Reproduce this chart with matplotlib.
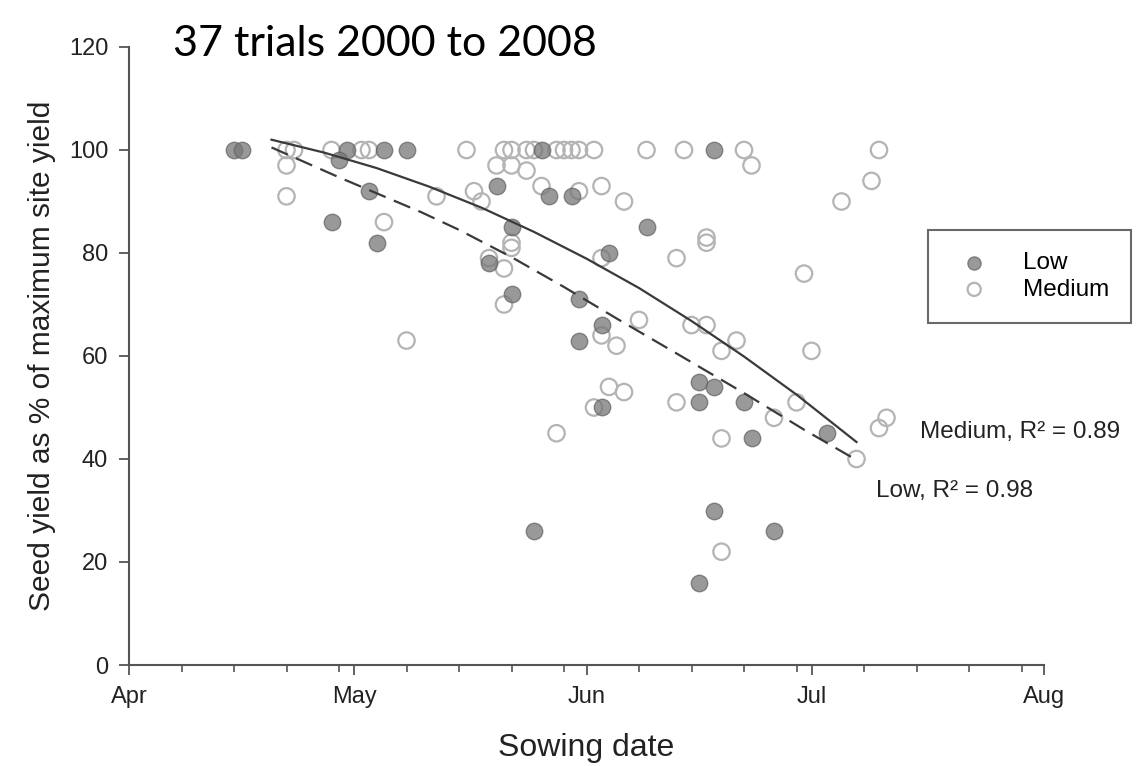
import numpy as np
import pandas as pd
import matplotlib
matplotlib.use("Agg")
import matplotlib.pyplot as plt
import matplotlib.dates as mdates

plt.rcParams['font.family'] = ['Liberation Sans', 'DejaVu Sans']

# sowing dates (month-day) and yield as % of site maximum
low_dates = ["04-15", "04-16", "04-30", "04-29", "05-05", "05-08", "05-03", "04-28",
             "05-04", "05-20", "05-26", "05-27", "05-30", "05-22", "05-19", "05-22",
             "06-04", "06-09", "05-31", "06-03", "05-31", "06-03", "05-25", "06-18",
             "06-16", "06-18", "06-16", "06-22", "06-23", "07-03", "06-18", "06-26",
             "06-16"]
low_yield = [100, 100, 100, 98, 100, 100, 92, 86,
             82, 93, 100, 91, 91, 85, 78, 72,
             80, 85, 71, 66, 63, 50, 26, 100,
             55, 54, 51, 51, 44, 45, 30, 26,
             16]

med_dates = ["04-22", "04-23", "04-28", "05-02", "05-03", "05-16", "05-21", "05-22",
             "05-24", "05-25", "05-28", "05-29", "05-30", "05-31", "06-02", "06-09",
             "06-14", "06-22", "07-10",
             "04-22", "04-22", "05-05", "05-08", "05-12", "05-20", "05-22", "05-24",
             "05-17", "05-18", "05-26", "05-31", "06-03", "06-06", "06-23", "07-09",
             "07-05", "05-22", "05-22", "05-19", "05-21", "05-21", "06-03", "06-17",
             "06-17", "06-13", "06-30", "06-08", "06-03", "06-05", "06-04", "06-06",
             "06-02", "05-28", "06-15", "06-17", "06-21", "06-19", "07-01", "06-13",
             "06-26", "06-29", "07-07", "06-19", "07-11", "07-10", "06-19"]
med_yield = [100, 100, 100, 100, 100, 100, 100, 100,
             100, 100, 100, 100, 100, 100, 100, 100,
             100, 100, 100,
             97, 91, 86, 63, 91, 97, 97, 96,
             92, 90, 93, 92, 93, 90, 97, 94,
             90, 82, 81, 79, 77, 70, 79, 83,
             82, 79, 76, 67, 64, 62, 54, 53,
             50, 45, 66, 66, 63, 61, 61, 51,
             48, 51, 40, 44, 48, 46, 22]

# fitted response curves
low_fit_dates = ["04-20", "04-29", "05-10", "05-15", "05-22", "05-29", "06-05",
                 "06-13", "06-22", "06-30", "07-07"]
low_fit = [100.5, 94.7, 87.9, 84.5, 79.2, 73.4, 67.3, 60.5, 52.8, 45.7, 39.8]
med_fit_dates = ["04-20", "04-27", "05-04", "05-11", "05-18", "05-25", "06-01",
                 "06-08", "06-15", "06-22", "06-29", "07-07"]
med_fit = [102.0, 99.5, 96.5, 92.9, 88.8, 84.1, 78.9, 73.2, 66.8, 59.9, 52.5, 43.3]

year = "2001-"
def to_dt(days):
    return pd.to_datetime([year + d for d in days])

fig = plt.figure(figsize=(11.37, 7.66), dpi=100)
ax = fig.add_axes([129/1137, 1-665/766, 915/1137, 618/766])

ax.scatter(to_dt(med_dates), med_yield, s=140, facecolors='none',
           edgecolors='#b4b4b4', linewidths=1.6, label='Medium', zorder=2)
ax.scatter(to_dt(low_dates), low_yield, s=140, facecolors='#777777',
           edgecolors='#666666', linewidths=1.0, alpha=0.75, label='Low', zorder=2)

ax.plot(to_dt(med_fit_dates), med_fit, color='#3a3a3a', lw=1.6, zorder=3)
ax.plot(to_dt(low_fit_dates), low_fit, color='#3a3a3a', lw=1.6,
        dashes=(8, 4), zorder=3)

ax.set_xlim(pd.Timestamp(year + "04-01"), pd.Timestamp(year + "08-01"))
ax.set_ylim(0, 120)
ax.set_yticks(range(0, 121, 20))
ax.xaxis.set_major_locator(mdates.MonthLocator())
ax.xaxis.set_major_formatter(mdates.DateFormatter('%b'))
ax.xaxis.set_minor_locator(mdates.DayLocator(bymonthday=[8, 15, 22, 29]))

for side in ['top', 'right']:
    ax.spines[side].set_visible(False)
for side in ['left', 'bottom']:
    ax.spines[side].set_color('#555555')
    ax.spines[side].set_linewidth(1.5)
ax.tick_params(which='major', length=7, width=1.3, color='#555555',
               labelsize=17, labelcolor='#222222', pad=8)
ax.tick_params(which='minor', length=5, width=1.2, color='#555555')

ax.set_xlabel('Sowing date', fontsize=23, color='#222222', labelpad=18)
ax.set_ylabel('Seed yield as % of maximum site yield', fontsize=21.5,
              color='#222222', labelpad=9)

handles, labels = ax.get_legend_handles_labels()
leg = ax.legend(handles[::-1], labels[::-1], loc='upper left',
                bbox_to_anchor=(928/1137, 1-230/766), bbox_transform=fig.transFigure,
                fontsize=17.5, frameon=True, fancybox=False, markerscale=0.8,
                handletextpad=1.0, borderpad=0.9, labelspacing=0.2, borderaxespad=0)
leg.get_frame().set_edgecolor('#444444')
leg.get_frame().set_linewidth(1.5)

ax.text(0.8645, 0.377, 'Medium, R² = 0.89', transform=ax.transAxes,
        fontsize=17.5, color='#222222', va='center', ha='left')
ax.text(0.816, 0.2816, 'Low, R² = 0.98', transform=ax.transAxes,
        fontsize=17.5, color='#222222', va='center', ha='left')

fig.text(173/1137, 1-56/766, '37 trials 2000 to 2008', family=['Lato', 'DejaVu Sans'],
         fontsize=31, color='black', va='baseline', ha='left')

fig.savefig('out.png', dpi=100)
